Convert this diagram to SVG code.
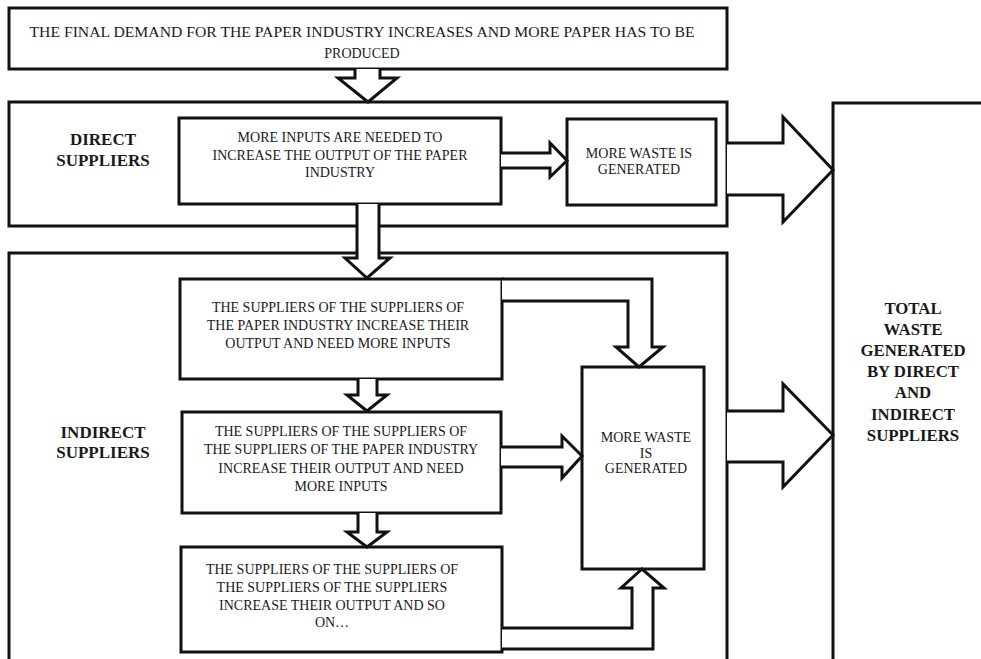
<svg xmlns="http://www.w3.org/2000/svg" width="981" height="659" viewBox="0 0 981 659">
<style>
.box{fill:#fff;stroke:#111;stroke-width:3}
.frame{fill:none;stroke:#111;stroke-width:3}
.arr{fill:#fff;stroke:#111;stroke-width:3;stroke-linejoin:miter}
text{font-family:'Liberation Serif','Times New Roman',Tinos,'DejaVu Serif',serif;fill:#1a1a1a;text-anchor:middle}
.t{font-size:14px}
.tb{font-weight:bold}
</style>
<rect width="981" height="659" fill="#fff"/>
<g id="direct-group">
<rect class="frame" x="9" y="102" width="718" height="124"/>
<text class="tb" font-size="17" x="103" y="145">DIRECT</text>
<text class="tb" font-size="17" x="103" y="166">SUPPLIERS</text>
</g>
<g id="indirect-group">
<rect class="frame" x="9" y="253" width="718" height="420"/>
<text class="tb" font-size="17" x="103" y="438">INDIRECT</text>
<text class="tb" font-size="17" x="103" y="458">SUPPLIERS</text>
</g>
<g id="final-demand">
<rect class="box" x="9" y="8" width="718" height="61"/>
<text class="t" font-size="16.8" x="362" y="37" textLength="665" lengthAdjust="spacingAndGlyphs">THE FINAL DEMAND FOR THE PAPER INDUSTRY INCREASES AND MORE PAPER HAS TO BE</text>
<text class="t" font-size="16.8" x="362" y="58">PRODUCED</text>
</g>
<g id="more-inputs">
<rect class="box" x="179" y="118" width="322" height="86"/>
<text class="t" x="340" y="142">MORE INPUTS ARE NEEDED TO</text>
<text class="t" x="340" y="159.5">INCREASE THE OUTPUT OF THE PAPER</text>
<text class="t" x="340" y="177">INDUSTRY</text>
</g>
<g id="waste-direct">
<rect class="box" x="567" y="119" width="149" height="86"/>
<text class="t" x="639" y="158">MORE WASTE IS</text>
<text class="t" x="639" y="174">GENERATED</text>
</g>
<g id="suppliers-1">
<rect class="box" x="180" y="279" width="322" height="100"/>
<text class="t" x="338" y="312">THE SUPPLIERS OF THE SUPPLIERS OF</text>
<text class="t" x="338" y="330">THE PAPER INDUSTRY INCREASE THEIR</text>
<text class="t" x="338" y="348">OUTPUT AND NEED MORE INPUTS</text>
</g>
<g id="suppliers-2">
<rect class="box" x="182" y="412" width="319" height="101"/>
<text class="t" font-size="14.3" x="341" y="436">THE SUPPLIERS OF THE SUPPLIERS OF</text>
<text class="t" font-size="14.3" x="341" y="454">THE SUPPLIERS OF THE PAPER INDUSTRY</text>
<text class="t" font-size="14.3" x="341" y="473">INCREASE THEIR OUTPUT AND NEED</text>
<text class="t" font-size="14.3" x="341" y="491">MORE INPUTS</text>
</g>
<g id="suppliers-3">
<rect class="box" x="181" y="547" width="321" height="105"/>
<text class="t" x="332" y="574">THE SUPPLIERS OF THE SUPPLIERS OF</text>
<text class="t" x="332" y="592">THE SUPPLIERS OF THE SUPPLIERS</text>
<text class="t" x="332" y="610">INCREASE THEIR OUTPUT AND SO</text>
<text class="t" x="332" y="627">ON…</text>
</g>
<g id="waste-indirect">
<rect class="box" x="582" y="367" width="122" height="202"/>
<text class="t" x="646" y="442">MORE WASTE</text>
<text class="t" x="646" y="457.5">IS</text>
<text class="t" x="646" y="473">GENERATED</text>
</g>
<g id="total-waste">
<path class="box" d="M833,665 V103 H990 V665"/>
<text class="tb" font-size="16.8" x="913" y="314">TOTAL</text>
<text class="tb" font-size="16.8" x="913" y="335">WASTE</text>
<text class="tb" font-size="16.8" x="913" y="356">GENERATED</text>
<text class="tb" font-size="16.8" x="913" y="377">BY DIRECT</text>
<text class="tb" font-size="16.8" x="913" y="398">AND</text>
<text class="tb" font-size="16.8" x="913" y="420">INDIRECT</text>
<text class="tb" font-size="16.8" x="913" y="441">SUPPLIERS</text>
</g>
<g id="connectors">
<path class="arr" d="M355,69 V78 H338 L368,102 L397,78 H380 V69"/>
<path class="arr" d="M501,153 H550 V143 L567,160.5 L550,177 V168 H501"/>
<path class="arr" d="M357,204 V258 H345 L367,278 L390,258 H379 V204"/>
<path class="arr" d="M358,379 V395 H347 L367,411 L387,395 H377 V379"/>
<path class="arr" d="M358,513 V532 H347 L367,547 L387,532 H377 V513"/>
<path class="arr" d="M502,279 H652 V347 H663 L639,367 L616,347 H628 V301 H502"/>
<path class="arr" d="M501,447 H562 V436 L582,456 L562,478 V467 H501"/>
<path class="arr" d="M502,628 H632 V588 H621 L642,569 L664,588 H653 V649 H502"/>
<path class="arr" d="M727,143 H783 V117 L833,170 L783,222 V195 H727"/>
<path class="arr" d="M727,411 H783 V384 L833,435 L783,487 V462 H727"/>
</g>
</svg>
